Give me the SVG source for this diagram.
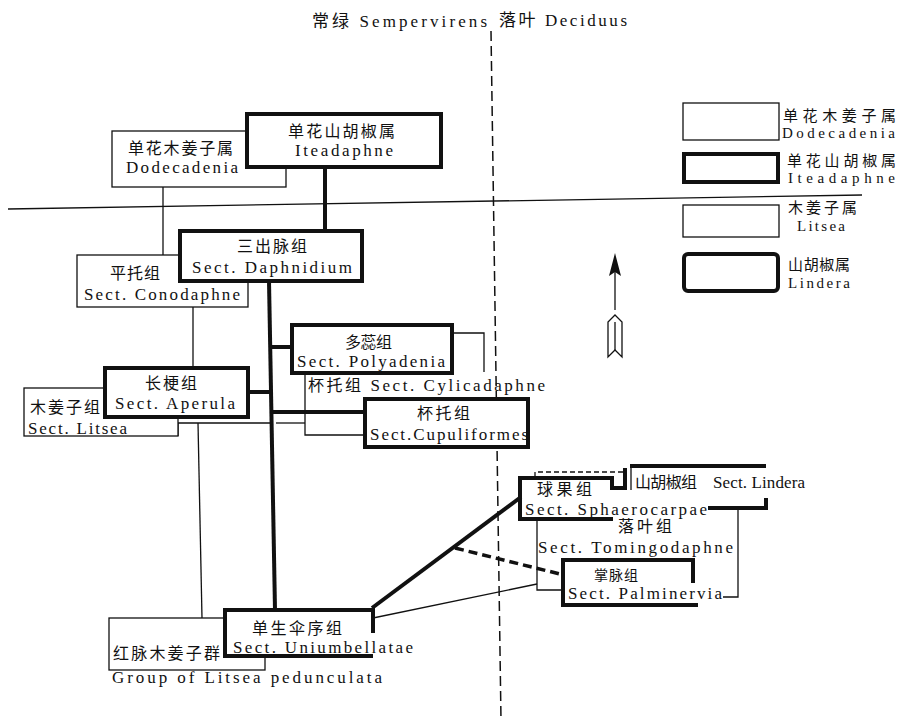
<svg xmlns="http://www.w3.org/2000/svg" width="897" height="720" viewBox="0 0 897 720">
<defs>
<style>
.t{font-family:"Liberation Serif","Noto Sans CJK SC",serif;font-size:17px;fill:#111}
.c{font-size:16px}
.s{font-size:15px}
.thin{fill:none;stroke:#111;stroke-width:1.3}
.thick{fill:none;stroke:#111;stroke-width:4}
.bx{fill:#fff}
.dash{fill:none;stroke:#111;stroke-width:1.5;stroke-dasharray:10 5}
</style>
</defs>
<rect width="897" height="720" fill="#fff"/>

<g id="header">
<line x1="491" y1="31" x2="501" y2="720" class="dash"/>
<line x1="8" y1="209" x2="862" y2="195" class="thin"/>
<text class="t" x="312" y="27" textLength="175" lengthAdjust="spacing">常绿 Sempervirens</text>
<text class="t" x="499" y="26" textLength="128" lengthAdjust="spacing">落叶 Deciduus</text>
</g>

<g id="connectors">
<line x1="163" y1="187" x2="163" y2="255" class="thin"/>
<line x1="325" y1="167" x2="325" y2="231" class="thick"/>
<line x1="193" y1="307" x2="193" y2="368" class="thin"/>
<line x1="269" y1="281" x2="275" y2="610" class="thick"/>
<line x1="270" y1="347" x2="292" y2="347" class="thick"/>
<line x1="248" y1="392" x2="271" y2="392" class="thick"/>
<line x1="272" y1="412" x2="365" y2="412" class="thick"/>
<path d="M452,333 L484,333 L484,372" class="thin"/>
<path d="M305,373 L305,435 L365,435" class="thin"/>
<line x1="276" y1="423" x2="305" y2="423" class="thin"/>
<path d="M178,436 L178,423 L271,423" class="thin"/>
<line x1="198" y1="423" x2="202" y2="618" class="thin"/>
<line x1="372" y1="608" x2="521" y2="497" class="thick"/>
<line x1="373" y1="618" x2="537" y2="584" class="thin"/>
<line x1="455" y1="548" x2="564" y2="575" style="fill:none;stroke:#111;stroke-width:3.5;stroke-dasharray:9 5"/>
<path d="M537,520 L537,590 L563,590" class="thin"/>
<path d="M535,477 L535,472 L627,472" class="thin" style="stroke-dasharray:5 3"/>
<path d="M738,508 L738,597 L723,597" class="thin"/>
</g>

<g id="dodecadenia">
<rect x="112" y="131" width="174" height="56" class="bx thin"/>
<text class="t c" x="128" y="154" textLength="105" lengthAdjust="spacing">单花木姜子属</text>
<text class="t" x="126" y="173" textLength="112" lengthAdjust="spacing">Dodecadenia</text>
</g>

<g id="iteadaphne">
<rect x="247" y="114" width="194" height="53" class="bx thick"/>
<text class="t c" x="288" y="137" textLength="107" lengthAdjust="spacing">单花山胡椒属</text>
<text class="t" x="295" y="156" textLength="98" lengthAdjust="spacing">Iteadaphne</text>
</g>

<g id="conodaphne">
<rect x="77" y="255" width="171" height="52" class="bx thin"/>
<text class="t c" x="110" y="279" textLength="50" lengthAdjust="spacing">平托组</text>
<text class="t" x="84" y="300" textLength="156" lengthAdjust="spacing">Sect. Conodaphne</text>
</g>

<g id="daphnidium">
<rect x="180" y="231" width="182" height="50" class="bx thick"/>
<text class="t c" x="237" y="252" textLength="70" lengthAdjust="spacing">三出脉组</text>
<text class="t" x="192" y="273" textLength="160" lengthAdjust="spacing">Sect. Daphnidium</text>
</g>

<g id="polyadenia">
<rect x="292" y="325" width="160" height="48" class="bx thick"/>
<text class="t c" x="345" y="348" textLength="47" lengthAdjust="spacing">多蕊组</text>
<text class="t" x="297" y="367" textLength="148" lengthAdjust="spacing">Sect. Polyadenia</text>
</g>

<g id="cylicadaphne">
<text class="t" x="308" y="391" textLength="237" lengthAdjust="spacing"><tspan class="c">杯托组</tspan> Sect. Cylicadaphne</text>
</g>

<g id="cupuliformes">
<rect x="365" y="399" width="163" height="48" class="bx thick"/>
<text class="t c" x="417" y="419" textLength="53" lengthAdjust="spacing">杯托组</text>
<text class="t" x="370" y="440" textLength="158" lengthAdjust="spacing">Sect.Cupuliformes</text>
</g>

<g id="litsea">
<rect x="24" y="388" width="154" height="48" class="bx thin"/>
<text class="t c" x="30" y="413" textLength="70" lengthAdjust="spacing">木姜子组</text>
<text class="t" x="28" y="434" textLength="99" lengthAdjust="spacing">Sect. Litsea</text>
</g>

<g id="aperula">
<rect x="105" y="368" width="143" height="49" class="bx thick"/>
<text class="t c" x="145" y="389" textLength="52" lengthAdjust="spacing">长梗组</text>
<text class="t" x="115" y="409" textLength="120" lengthAdjust="spacing">Sect. Aperula</text>
</g>

<g id="pedunculata">
<rect x="109" y="618" width="156" height="52" class="bx thin"/>
<text class="t c" x="113" y="659" textLength="107" lengthAdjust="spacing">红脉木姜子群</text>
<text class="t" x="112" y="683" textLength="270" lengthAdjust="spacing">Group of Litsea pedunculata</text>
</g>

<g id="uniumbellatae">
<rect x="225" y="610" width="148" height="46" class="bx"/>
<path d="M373,633 L373,610 L225,610 L225,656 L373,656" class="thick"/>
<text class="t c" x="252" y="634" textLength="90" lengthAdjust="spacing">单生伞序组</text>
<text class="t" x="233" y="653" textLength="180" lengthAdjust="spacing">Sect. Uniumbellatae</text>
</g>

<g id="sphaerocarpae">
<path d="M625,468 L625,488 L612,488 L612,478 L520,478 L520,519 L613,519" class="thick"/>
<text class="t c" x="537" y="495" textLength="55" lengthAdjust="spacing">球果组</text>
<text class="t" x="525" y="515" textLength="182" lengthAdjust="spacing">Sect. Sphaerocarpae</text>
</g>

<g id="lindera">
<path d="M630,466 L766,466 M766,498 L766,508 L708,508" class="thick"/>
<line x1="631" y1="466" x2="631" y2="490" class="thin"/>
<text class="t c" x="635" y="488" textLength="62" lengthAdjust="spacing">山胡椒组</text>
<text class="t" x="713" y="488" textLength="92" lengthAdjust="spacing">Sect. Lindera</text>
</g>

<g id="tomingodaphne">
<text class="t c" x="618" y="532" textLength="54" lengthAdjust="spacing">落叶组</text>
<text class="t" x="538" y="553" textLength="195" lengthAdjust="spacing">Sect. Tomingodaphne</text>
</g>

<g id="palminervia">
<path d="M693,583 L693,560 L563,560 L563,605 L698,605" class="thick"/>
<text class="t" x="594" y="580" textLength="44" lengthAdjust="spacing" style="font-size:14px">掌脉组</text>
<text class="t" x="568" y="599" textLength="154" lengthAdjust="spacing">Sect. Palminervia</text>
</g>

<g id="legend">
<rect x="683" y="103" width="96" height="37" class="thin"/>
<text class="t s" x="783" y="121" textLength="113" lengthAdjust="spacing">单花木姜子属</text>
<text class="t s" x="782" y="138" textLength="113" lengthAdjust="spacing">Dodecadenia</text>
<rect x="684" y="154" width="94" height="28" class="thick"/>
<text class="t s" x="787" y="166" textLength="109" lengthAdjust="spacing">单花山胡椒属</text>
<text class="t s" x="788" y="183" textLength="107" lengthAdjust="spacing">Iteadaphne</text>
<rect x="683" y="205" width="96" height="32" class="thin"/>
<text class="t s" x="788" y="213" textLength="69" lengthAdjust="spacing">木姜子属</text>
<text class="t s" x="797" y="231" textLength="48" lengthAdjust="spacing">Litsea</text>
<rect x="684" y="254" width="94" height="37" rx="4" class="thick"/>
<text class="t s" x="788" y="270" textLength="62" lengthAdjust="spacing">山胡椒属</text>
<text class="t s" x="788" y="288" textLength="62" lengthAdjust="spacing">Lindera</text>
</g>

<g id="north-arrow">
<line x1="615" y1="268" x2="615" y2="310" class="thin"/>
<path d="M615,253 L621,276 L615,272 L609,276 Z" fill="#111"/>
<path d="M615,315 L622,322 L622,357 L615,350 L608,357 L608,322 Z" class="thin"/>
<line x1="615" y1="322" x2="615" y2="350" class="thin"/>
</g>
</svg>
